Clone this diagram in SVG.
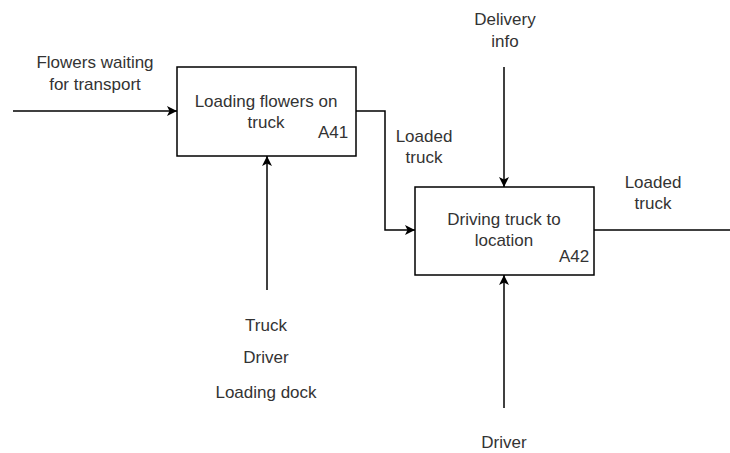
<svg xmlns="http://www.w3.org/2000/svg" width="730" height="453" viewBox="0 0 730 453">
  <defs>
    <marker id="arrow" viewBox="0 0 10 10" refX="10" refY="5" markerWidth="10" markerHeight="10" markerUnits="userSpaceOnUse" orient="auto">
      <path d="M0,0 L10,5 L0,10 L2.5,5 Z" fill="#000"/>
    </marker>
  </defs>
  <style>
    .box { fill: #fff; stroke: #000; stroke-width: 1.5; }
    .edge { fill: none; stroke: #000; stroke-width: 1.5; marker-end: url(#arrow); }
    .line { fill: none; stroke: #000; stroke-width: 1.5; }
    text { font-family: "Liberation Sans", Arial, sans-serif; font-size: 17px; fill: #333; text-anchor: middle; }
  </style>
  <rect width="730" height="453" fill="#fff"/>

  <g id="connectors">
    <path class="edge" d="M13,111 H177"/>
    <path class="edge" d="M356,111 H385 V230 H415"/>
    <path class="edge" d="M267,290 V156"/>
    <path class="edge" d="M504,67 V187"/>
    <path class="edge" d="M504,408 V275"/>
    <path class="line" d="M594,230 H730"/>
  </g>

  <g id="A41">
    <rect class="box" x="177" y="67" width="179" height="89"/>
    <text x="266" y="107">Loading flowers on</text>
    <text x="266" y="128">truck</text>
    <text x="333" y="138">A41</text>
  </g>

  <g id="A42">
    <rect class="box" x="415" y="187" width="179" height="88"/>
    <text x="504" y="225">Driving truck to</text>
    <text x="504" y="246">location</text>
    <text x="574" y="262">A42</text>
  </g>

  <g id="labels">
    <text x="95" y="68">Flowers waiting</text>
    <text x="95" y="90">for transport</text>
    <text x="505" y="25">Delivery</text>
    <text x="505" y="47">info</text>
    <text x="424" y="142">Loaded</text>
    <text x="424" y="163">truck</text>
    <text x="653" y="188">Loaded</text>
    <text x="653" y="209">truck</text>
    <text x="266" y="331">Truck</text>
    <text x="266" y="363">Driver</text>
    <text x="266" y="398">Loading dock</text>
    <text x="504" y="448">Driver</text>
  </g>
</svg>
